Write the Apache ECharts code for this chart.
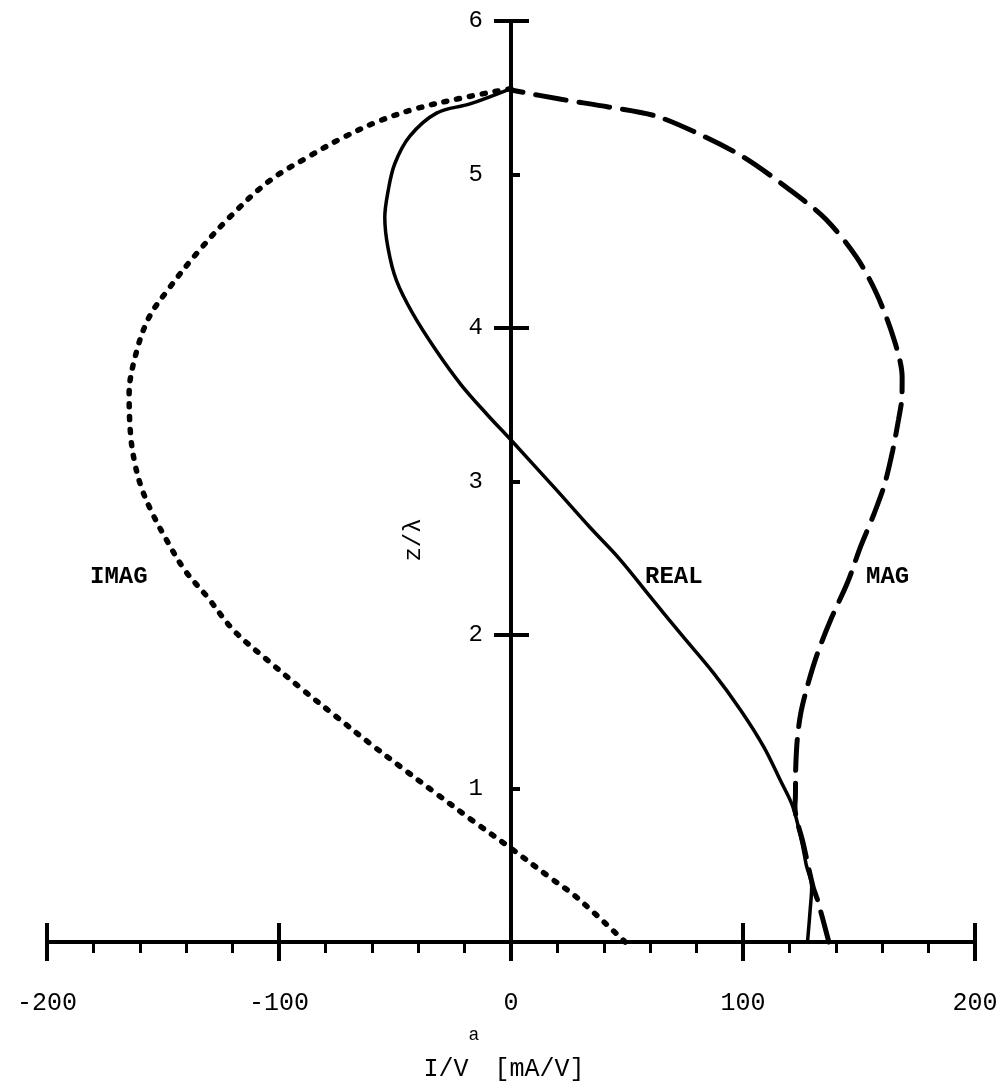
<!DOCTYPE html>
<html>
<head>
<meta charset="utf-8">
<title>Current distribution along the antenna</title>
<script src="https://cdn.jsdelivr.net/npm/echarts@6/dist/echarts.min.js"></script>
<style>
  html, body { margin: 0; padding: 0; background: #fff; }
  #chart { width: 999px; height: 1085px; }
</style>
</head>
<body>
<div id="chart"></div>
<script>
// Position along the element, z/λ, and current per volt (mA/V) for each component.
const realZ = [0.00, 0.20, 0.36, 0.50, 0.64, 0.88, 1.05, 1.27, 1.51, 1.75, 2.01, 2.25, 2.49, 2.70, 2.95, 3.27, 3.44, 3.63, 3.85, 4.09, 4.31, 4.52, 4.72, 4.89, 5.07, 5.25, 5.40, 5.46, 5.56];
const realI = [127.8, 128.9, 129.6, 127.3, 125.5, 121.5, 116.2, 109.0, 99.0, 87.4, 73.0, 60.0, 47.1, 34.1, 19.3, 0.0, -10.5, -21.5, -32.1, -42.2, -49.4, -53.0, -54.4, -53.0, -50.1, -43.6, -32.1, -17.7, 0.0];

const imagZ = [0.00, 0.29, 0.42, 0.61, 0.79, 0.97, 1.14, 1.29, 1.47, 1.64, 1.83, 2.03, 2.25, 2.42, 2.62, 2.79, 2.96, 3.13, 3.31, 3.57, 3.83, 4.07, 4.26, 4.48, 4.72, 4.96, 5.12, 5.24, 5.35, 5.43, 5.50, 5.56];
const imagI = [49.2, 28.4, 16.8, 0.0, -16.5, -32.5, -47.5, -60.5, -75.5, -89.5, -104.5, -119.5, -131.0, -140.5, -148.5, -154.5, -159.3, -162.3, -164.0, -164.6, -161.7, -156.0, -147.3, -135.8, -121.4, -104.0, -86.8, -72.5, -56.6, -40.7, -20.7, 0.0];

const magZ = [0.00, 0.27, 0.36, 0.64, 0.88, 0.95, 1.12, 1.32, 1.49, 1.67, 1.88, 2.10, 2.34, 2.58, 2.79, 2.98, 3.20, 3.40, 3.55, 3.68, 3.93, 4.22, 4.46, 4.71, 4.92, 5.11, 5.25, 5.38, 5.44, 5.49, 5.55];
const magI = [137.0, 132.2, 130.2, 126.0, 122.4, 122.6, 122.7, 123.4, 124.9, 127.8, 132.1, 137.8, 145.0, 150.8, 156.5, 161.0, 164.5, 167.0, 168.5, 168.6, 165.0, 157.7, 149.0, 135.6, 118.4, 100.6, 83.0, 62.6, 42.0, 21.6, 0.0];

const xTicks = { min: -200, max: 200, major: 100, minorSplit: 5 };
const zTicks = { min: 0, max: 6, label: 1, major: 2 };

const FONT = '"Liberation Mono", "DejaVu Sans Mono", monospace';
const INK = '#000';

const pairs = (xs, zs) => xs.map((v, i) => [v, zs[i]]);

const GRID = { left: 47, right: 24, top: 21, bottom: 143 };
const WIDTH = 999;
// the z axis stands on I = 0, which is the middle of the symmetric current range
const zAxisShift = -((WIDTH - GRID.left - GRID.right) * (0 - xTicks.min) / (xTicks.max - xTicks.min));

const chart = echarts.init(document.getElementById('chart'), null, { renderer: 'canvas' });

const baseX = {
  type: 'value', min: xTicks.min, max: xTicks.max, interval: xTicks.major,
  position: 'bottom', splitLine: { show: false },
  axisLine: { onZero: false, lineStyle: { color: INK, width: 4 } }
};
const baseY = {
  type: 'value', min: zTicks.min, max: zTicks.max,
  position: 'left', offset: zAxisShift, splitLine: { show: false },
  axisLine: { onZero: false, lineStyle: { color: INK, width: 3.5 } }
};

chart.setOption({
  animation: false,
  backgroundColor: '#fff',
  grid: Object.assign({ outerBoundsMode: 'none', containLabel: false }, GRID),
  xAxis: [
    Object.assign({}, baseX, {
      axisTick: { show: true, inside: false, length: 19, lineStyle: { color: INK, width: 4 } },
      minorTick: { show: true, splitNumber: xTicks.minorSplit, length: 11, lineStyle: { color: INK, width: 3 } },
      axisLabel: { margin: 49, fontFamily: FONT, fontSize: 25, color: INK },
      name: '{n|I/V}{s|a}{n| [mA/V]}',
      nameLocation: 'middle',
      nameGap: 84,
      nameTextStyle: {
        padding: [0, 14, 0, 0],
        rich: {
          n: { fontFamily: FONT, fontSize: 25, color: INK, lineHeight: 56, verticalAlign: 'bottom' },
          s: { fontFamily: FONT, fontSize: 18, color: INK, lineHeight: 56, verticalAlign: 'top' }
        }
      }
    }),
    Object.assign({}, baseX, {
      axisTick: { show: true, inside: true, length: 19, lineStyle: { color: INK, width: 4 } },
      axisLabel: { show: false }
    })
  ],
  yAxis: [
    Object.assign({}, baseY, {
      interval: zTicks.label,
      axisTick: { show: false },
      axisLabel: { margin: 28, fontFamily: FONT, fontSize: 24, color: INK, showMinLabel: false }
    }),
    Object.assign({}, baseY, {
      interval: zTicks.major,
      axisTick: { show: true, inside: false, length: 17, lineStyle: { color: INK, width: 4 } },
      axisLabel: { show: false }
    }),
    Object.assign({}, baseY, {
      interval: zTicks.major,
      axisTick: { show: true, inside: true, length: 18, lineStyle: { color: INK, width: 4 } },
      minorTick: { show: true, splitNumber: 2, length: 9, lineStyle: { color: INK, width: 4 } },
      axisLabel: { show: false }
    })
  ],
  series: [
    {
      name: 'REAL', type: 'line', xAxisIndex: 0, yAxisIndex: 0,
      data: pairs(realI, realZ), showSymbol: false, smooth: 0.35, clip: false,
      lineStyle: { color: INK, width: 3.5 }
    },
    {
      name: 'MAG', type: 'line', xAxisIndex: 0, yAxisIndex: 0,
      data: pairs(magI, magZ), showSymbol: false, smooth: 0.3, clip: false,
      lineStyle: { color: INK, width: 5, type: [31, 13], cap: 'round' }
    },
    {
      name: 'IMAG', type: 'line', xAxisIndex: 0, yAxisIndex: 0,
      data: pairs(imagI, imagZ), showSymbol: false, smooth: 0.35, clip: false,
      lineStyle: { color: INK, width: 5.5, type: [3, 10], cap: 'round' }
    }
  ],
  graphic: [
    { type: 'text', x: 414, y: 540, rotation: Math.PI / 2,
      style: { text: 'z/λ', font: '24px ' + FONT, fill: INK, align: 'center', verticalAlign: 'middle' } },
    { type: 'text', x: 90, y: 577,
      style: { text: 'IMAG', font: 'bold 24px ' + FONT, fill: INK, align: 'left', verticalAlign: 'middle' } },
    { type: 'text', x: 645, y: 577,
      style: { text: 'REAL', font: 'bold 24px ' + FONT, fill: INK, align: 'left', verticalAlign: 'middle' } },
    { type: 'text', x: 866, y: 577,
      style: { text: 'MAG', font: 'bold 24px ' + FONT, fill: INK, align: 'left', verticalAlign: 'middle' } }
  ]
});
</script>
</body>
</html>
